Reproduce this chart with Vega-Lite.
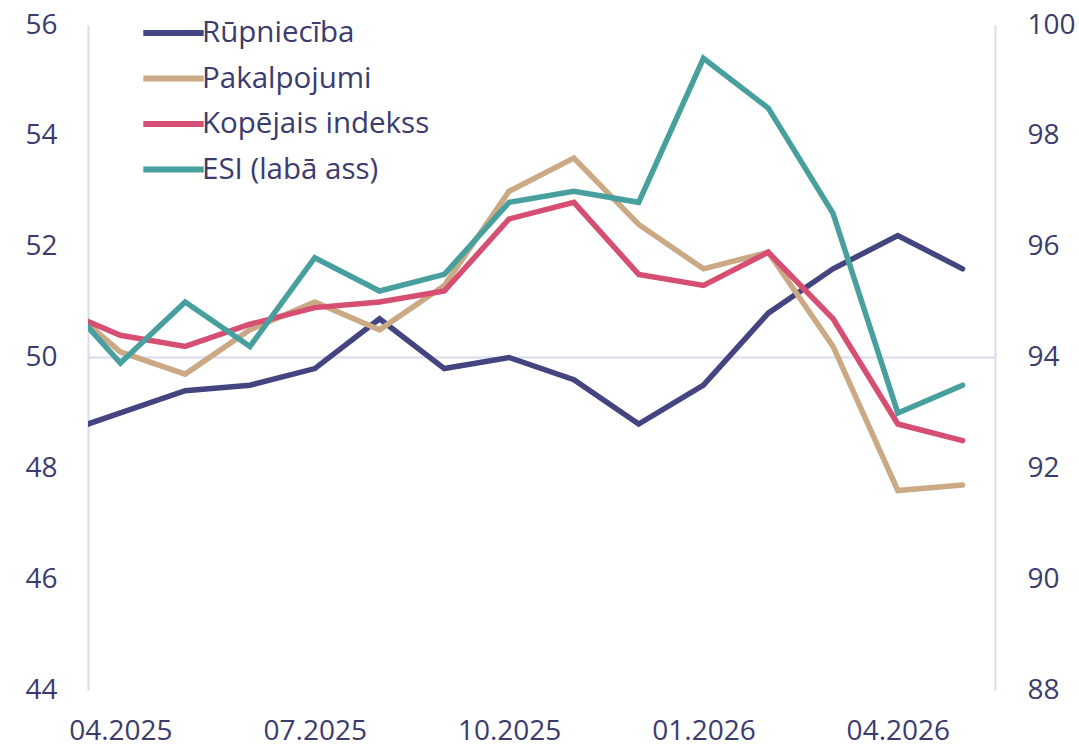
{
  "$schema": "https://vega.github.io/schema/vega-lite/v6.json",
  "width": 907,
  "height": 665,
  "autosize": {"type": "none"},
  "padding": {"left": 88, "top": 25, "right": 84, "bottom": 56},
  "background": "white",
  "config": {
    "view": {"stroke": null},
    "font": "Open Sans",
    "axis": {"labelFont": "Open Sans", "labelFontSize": 28, "labelColor": "#3b3b6e", "titleFontSize": 0},
    "legend": {"labelFont": "Open Sans"}
  },
  "datasets": {
    "left": [
      {"i": -1, "month": "03.2025", "series": "Rūpniecība", "value": 48.6},
      {"i": 0, "month": "04.2025", "series": "Rūpniecība", "value": 49.0},
      {"i": 1, "month": "05.2025", "series": "Rūpniecība", "value": 49.4},
      {"i": 2, "month": "06.2025", "series": "Rūpniecība", "value": 49.5},
      {"i": 3, "month": "07.2025", "series": "Rūpniecība", "value": 49.8},
      {"i": 4, "month": "08.2025", "series": "Rūpniecība", "value": 50.7},
      {"i": 5, "month": "09.2025", "series": "Rūpniecība", "value": 49.8},
      {"i": 6, "month": "10.2025", "series": "Rūpniecība", "value": 50.0},
      {"i": 7, "month": "11.2025", "series": "Rūpniecība", "value": 49.6},
      {"i": 8, "month": "12.2025", "series": "Rūpniecība", "value": 48.8},
      {"i": 9, "month": "01.2026", "series": "Rūpniecība", "value": 49.5},
      {"i": 10, "month": "02.2026", "series": "Rūpniecība", "value": 50.8},
      {"i": 11, "month": "03.2026", "series": "Rūpniecība", "value": 51.6},
      {"i": 12, "month": "04.2026", "series": "Rūpniecība", "value": 52.2},
      {"i": 13, "month": "05.2026", "series": "Rūpniecība", "value": 51.6},
      {"i": -1, "month": "03.2025", "series": "Pakalpojumi", "value": 51.1},
      {"i": 0, "month": "04.2025", "series": "Pakalpojumi", "value": 50.1},
      {"i": 1, "month": "05.2025", "series": "Pakalpojumi", "value": 49.7},
      {"i": 2, "month": "06.2025", "series": "Pakalpojumi", "value": 50.5},
      {"i": 3, "month": "07.2025", "series": "Pakalpojumi", "value": 51.0},
      {"i": 4, "month": "08.2025", "series": "Pakalpojumi", "value": 50.5},
      {"i": 5, "month": "09.2025", "series": "Pakalpojumi", "value": 51.3},
      {"i": 6, "month": "10.2025", "series": "Pakalpojumi", "value": 53.0},
      {"i": 7, "month": "11.2025", "series": "Pakalpojumi", "value": 53.6},
      {"i": 8, "month": "12.2025", "series": "Pakalpojumi", "value": 52.4},
      {"i": 9, "month": "01.2026", "series": "Pakalpojumi", "value": 51.6},
      {"i": 10, "month": "02.2026", "series": "Pakalpojumi", "value": 51.9},
      {"i": 11, "month": "03.2026", "series": "Pakalpojumi", "value": 50.2},
      {"i": 12, "month": "04.2026", "series": "Pakalpojumi", "value": 47.6},
      {"i": 13, "month": "05.2026", "series": "Pakalpojumi", "value": 47.7},
      {"i": -1, "month": "03.2025", "series": "Kopējais indekss", "value": 50.9},
      {"i": 0, "month": "04.2025", "series": "Kopējais indekss", "value": 50.4},
      {"i": 1, "month": "05.2025", "series": "Kopējais indekss", "value": 50.2},
      {"i": 2, "month": "06.2025", "series": "Kopējais indekss", "value": 50.6},
      {"i": 3, "month": "07.2025", "series": "Kopējais indekss", "value": 50.9},
      {"i": 4, "month": "08.2025", "series": "Kopējais indekss", "value": 51.0},
      {"i": 5, "month": "09.2025", "series": "Kopējais indekss", "value": 51.2},
      {"i": 6, "month": "10.2025", "series": "Kopējais indekss", "value": 52.5},
      {"i": 7, "month": "11.2025", "series": "Kopējais indekss", "value": 52.8},
      {"i": 8, "month": "12.2025", "series": "Kopējais indekss", "value": 51.5},
      {"i": 9, "month": "01.2026", "series": "Kopējais indekss", "value": 51.3},
      {"i": 10, "month": "02.2026", "series": "Kopējais indekss", "value": 51.9},
      {"i": 11, "month": "03.2026", "series": "Kopējais indekss", "value": 50.7},
      {"i": 12, "month": "04.2026", "series": "Kopējais indekss", "value": 48.8},
      {"i": 13, "month": "05.2026", "series": "Kopējais indekss", "value": 48.5}
    ],
    "right": [
      {"i": -1, "month": "03.2025", "series": "ESI (labā ass)", "value": 95.2},
      {"i": 0, "month": "04.2025", "series": "ESI (labā ass)", "value": 93.9},
      {"i": 1, "month": "05.2025", "series": "ESI (labā ass)", "value": 95.0},
      {"i": 2, "month": "06.2025", "series": "ESI (labā ass)", "value": 94.2},
      {"i": 3, "month": "07.2025", "series": "ESI (labā ass)", "value": 95.8},
      {"i": 4, "month": "08.2025", "series": "ESI (labā ass)", "value": 95.2},
      {"i": 5, "month": "09.2025", "series": "ESI (labā ass)", "value": 95.5},
      {"i": 6, "month": "10.2025", "series": "ESI (labā ass)", "value": 96.8},
      {"i": 7, "month": "11.2025", "series": "ESI (labā ass)", "value": 97.0},
      {"i": 8, "month": "12.2025", "series": "ESI (labā ass)", "value": 96.8},
      {"i": 9, "month": "01.2026", "series": "ESI (labā ass)", "value": 99.4},
      {"i": 10, "month": "02.2026", "series": "ESI (labā ass)", "value": 98.5},
      {"i": 11, "month": "03.2026", "series": "ESI (labā ass)", "value": 96.6},
      {"i": 12, "month": "04.2026", "series": "ESI (labā ass)", "value": 93.0},
      {"i": 13, "month": "05.2026", "series": "ESI (labā ass)", "value": 93.5}
    ]
  },
  "layer": [
    {
      "layer": [
        {
          "data": {"values": [{"ref": 50}]},
          "mark": {"type": "rule", "color": "#dadaf0", "strokeWidth": 2},
          "encoding": {
            "y": {"field": "ref", "type": "quantitative"}
          }
        },
        {
          "data": {"name": "left"},
          "mark": {"type": "line", "strokeWidth": 5.5, "strokeCap": "round", "clip": true},
          "encoding": {
            "x": {
              "field": "i", "type": "quantitative",
              "scale": {"domain": [-0.5, 13.5], "nice": false, "zero": false},
              "axis": {
                "orient": "bottom", "values": [0, 3, 6, 9, 12], "title": null,
                "labelExpr": "['04.2025','07.2025','10.2025','01.2026','04.2026'][datum.value/3]",
                "domain": false, "ticks": false, "grid": false, "labelPadding": 27
              }
            },
            "y": {
              "field": "value", "type": "quantitative",
              "scale": {"domain": [44, 56], "nice": false, "zero": false},
              "axis": {
                "orient": "left", "values": [44, 46, 48, 50, 52, 54, 56], "title": null, "format": "d",
                "domain": true, "domainColor": "#dadaf0", "domainWidth": 2,
                "ticks": false, "grid": false, "labelPadding": 31
              }
            },
            "color": {
              "field": "series", "type": "nominal",
              "scale": {
                "domain": ["Rūpniecība", "Pakalpojumi", "Kopējais indekss", "ESI (labā ass)"],
                "range": ["#434480", "#caa984", "#d64e72", "#47a09d"]
              },
              "legend": {
                "title": null, "orient": "none", "legendX": 52, "legendY": -7,
                "symbolType": "stroke", "symbolSize": 3650, "symbolStrokeWidth": 6,
                "labelFontSize": 29.5, "labelColor": "#3b3b6e", "labelOffset": -5, "labelLimit": 500,
                "clipHeight": 30, "rowPadding": 15.5, "padding": 0
              }
            }
          }
        }
      ]
    },
    {
      "data": {"name": "right"},
      "mark": {"type": "line", "strokeWidth": 5.5, "strokeCap": "round", "clip": true},
      "encoding": {
        "x": {"field": "i", "type": "quantitative"},
        "y": {
          "field": "value", "type": "quantitative",
          "scale": {"domain": [88, 100], "nice": false, "zero": false},
          "axis": {
            "orient": "right", "values": [88, 90, 92, 94, 96, 98, 100], "title": null,
            "domain": true, "domainColor": "#dadaf0", "domainWidth": 2,
            "ticks": false, "grid": false, "labelPadding": 32
          }
        },
        "color": {"field": "series", "type": "nominal"}
      }
    }
  ],
  "resolve": {"scale": {"y": "independent"}}
}
